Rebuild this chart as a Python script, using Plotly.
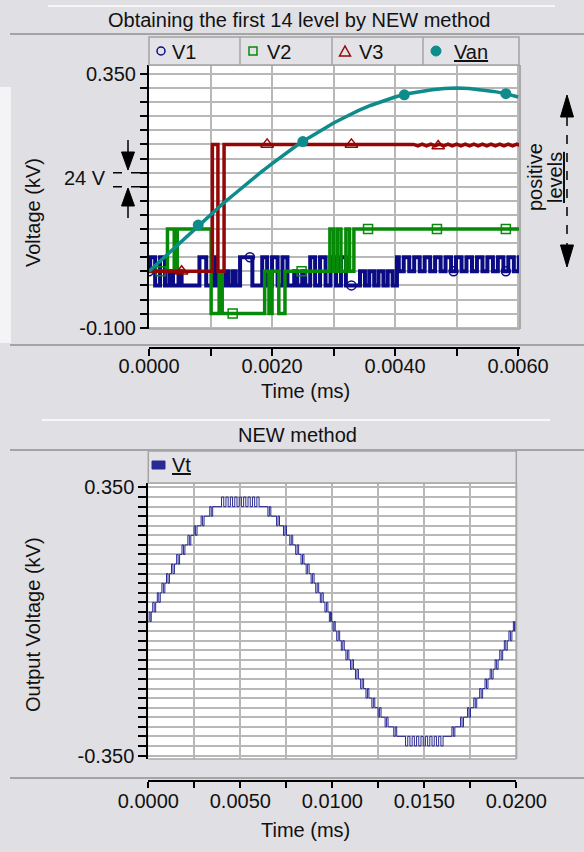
import plotly.graph_objects as go

W, H = 584, 852
def px(x): return x / W
def py(y): return 1 - y / H

FONT = "Liberation Sans, Arial, sans-serif"
BG = "#e0dfe3"
GRID = "#b8b8b8"
C_V1 = "#0b0b86"
C_V2 = "#078a07"
C_V3 = "#950606"
C_VAN = "#0e8b8b"
C_VT = "#2a2a95"

# ---------------- data (top chart, time in ms, voltage in kV) ----------------
van_t = [0.0000, 0.0002, 0.0004, 0.0006, 0.0008, 0.0010, 0.0012, 0.0014, 0.0016, 0.0018,
         0.0020, 0.0022, 0.0024, 0.0026, 0.0028, 0.0030, 0.0032, 0.0034, 0.0036, 0.0038,
         0.0040, 0.0042, 0.0044, 0.0046, 0.0048, 0.0050, 0.0052, 0.0054, 0.0056, 0.0058, 0.0060]
van_v = [0.000, 0.020, 0.041, 0.061, 0.081, 0.100, 0.120, 0.138, 0.157, 0.174,
         0.191, 0.207, 0.223, 0.237, 0.250, 0.263, 0.274, 0.285, 0.294, 0.302,
         0.309, 0.315, 0.319, 0.322, 0.324, 0.325, 0.324, 0.322, 0.319, 0.315, 0.309]
van_mark_t = [0.0008, 0.0025, 0.00415, 0.0058]
van_mark_v = [0.082, 0.230, 0.313, 0.315]

v3_t = [0.0, 0.00103, 0.00103, 0.00112, 0.00112, 0.00122, 0.00122, 0.00430,
        0.00437, 0.00444, 0.00451, 0.00458, 0.00465, 0.00472, 0.00479, 0.00486, 0.00493,
        0.00500, 0.00507, 0.00514, 0.00521, 0.00528, 0.00535, 0.00542, 0.00549, 0.00556,
        0.00563, 0.00570, 0.00577, 0.00584, 0.00591, 0.00598, 0.00603]
v3_v = [0.0, 0.0, 0.225, 0.225, 0.0, 0.0, 0.225, 0.225,
        0.2225, 0.2255, 0.2225, 0.2255, 0.2225, 0.2255, 0.2225, 0.2255, 0.2225,
        0.2255, 0.2225, 0.2255, 0.2225, 0.2255, 0.2225, 0.2255, 0.2225, 0.2255,
        0.2225, 0.2255, 0.2225, 0.2255, 0.2225, 0.2255, 0.2235]
v3_mark_t = [0.00053, 0.00192, 0.00329, 0.00470]
v3_mark_v = [0.0, 0.225, 0.225, 0.222]

v2_t = [0.0, 0.00030, 0.00041, 0.00046, 0.00101, 0.00114, 0.00119, 0.00188, 0.00195,
        0.00200, 0.00211, 0.00221, 0.00294, 0.00300, 0.00306, 0.00312, 0.00320, 0.00326,
        0.00333, 0.00603]
v2_v = [0.0, 0.075, 0.0, 0.075, -0.075, 0.0, -0.075, 0.0, -0.075,
        0.0, -0.075, 0.0, 0.075, 0.0, 0.075, 0.0, 0.075, 0.0,
        0.075, 0.075]
v2_mark_t = [0.00019, 0.00136, 0.00248, 0.00356, 0.00468, 0.00580]
v2_mark_v = [0.0, -0.075, 0.0, 0.075, 0.075, 0.075]

v1_t = [0.0, 0.00002, 0.00010, 0.00018, 0.00026, 0.00033, 0.00039, 0.00048, 0.00053,
        0.00082, 0.00093, 0.00104, 0.00110, 0.00124, 0.00129, 0.00136, 0.00141, 0.00148,
        0.00168, 0.00184, 0.00192, 0.00200, 0.00209, 0.00217, 0.00225,
        0.00236, 0.00241, 0.00249, 0.00254, 0.00262, 0.00270, 0.00278, 0.00287,
        0.00295, 0.00304, 0.00312, 0.00320, 0.00343, 0.00351, 0.00358, 0.00366,
        0.00373, 0.00381, 0.00388, 0.00396, 0.00403, 0.00406, 0.00414,
        0.00423, 0.00431, 0.00440, 0.00448, 0.00457, 0.00465, 0.00474, 0.00482, 0.00491,
        0.00499, 0.00508, 0.00516, 0.00525, 0.00533, 0.00542, 0.00550, 0.00559, 0.00567,
        0.00576, 0.00584, 0.00593, 0.00601, 0.00603]
v1_v = [0.0, 0.025, -0.025, 0.025, -0.025, 0.0, -0.025, 0.0, -0.025,
        0.025, -0.025, 0.025, -0.025, 0.0, -0.025, 0.0, -0.025, 0.025,
        -0.025, 0.025, -0.025, 0.025, -0.025, 0.025, -0.025,
        0.0, -0.025, 0.0, -0.025, 0.025, -0.025, 0.025, -0.025,
        0.025, -0.025, 0.025, -0.025, 0.0, -0.025, 0.0, -0.025,
        0.0, -0.025, 0.0, -0.025, 0.025, 0.0, 0.025,
        0.0, 0.025, 0.0, 0.025, 0.0, 0.025, 0.0, 0.025, 0.0,
        0.025, 0.0, 0.025, 0.0, 0.025, 0.0, 0.025, 0.0, 0.025,
        0.0, 0.025, 0.0, 0.025, 0.025]
v1_mark_t = [0.0, 0.00164, 0.00329, 0.00495, 0.00580]
v1_mark_v = [0.0, 0.025, -0.025, 0.0, 0.0]

# ---------------- data (bottom chart) ----------------
vt_t = [0.0, 0.00004, 0.00010, 0.00016,
        0.00024, 0.00032, 0.00040, 0.00049, 0.00057, 0.00065, 0.00074, 0.00082, 0.00090,
        0.00099, 0.00107, 0.00115, 0.00126, 0.00134, 0.00142, 0.00154, 0.00162, 0.00170,
        0.00183, 0.00191, 0.00199, 0.00215, 0.00223, 0.00231, 0.00249, 0.00257, 0.00265,
        0.00287, 0.00295, 0.00303, 0.00334, 0.00342, 0.00350,
        0.00398, 0.00410, 0.00422, 0.00434, 0.00446, 0.00458, 0.00470, 0.00482, 0.00494,
        0.00506, 0.00518, 0.00530, 0.00542, 0.00554, 0.00566, 0.00578, 0.00590, 0.00602,
        0.00650, 0.00658, 0.00666, 0.00697, 0.00705, 0.00713, 0.00735, 0.00743, 0.00751,
        0.00769, 0.00777, 0.00785, 0.00801, 0.00809, 0.00817, 0.00830, 0.00838, 0.00846,
        0.00858, 0.00866, 0.00874, 0.00885, 0.00893, 0.00901, 0.00910, 0.00918, 0.00926,
        0.00935, 0.00943, 0.00951, 0.00960, 0.00968, 0.00976, 0.00984, 0.00990, 0.00996,
        0.01004, 0.01010, 0.01016, 0.01024, 0.01032, 0.01040, 0.01049, 0.01057, 0.01065,
        0.01074, 0.01082, 0.01090, 0.01099, 0.01107, 0.01115, 0.01126, 0.01134, 0.01142,
        0.01154, 0.01162, 0.01170, 0.01183, 0.01191, 0.01199, 0.01215, 0.01223, 0.01231,
        0.01249, 0.01257, 0.01265, 0.01287, 0.01295, 0.01303, 0.01334, 0.01342, 0.01350,
        0.01398, 0.01410, 0.01422, 0.01434, 0.01446, 0.01458, 0.01470, 0.01482, 0.01494,
        0.01506, 0.01518, 0.01530, 0.01542, 0.01554, 0.01566, 0.01578, 0.01590, 0.01602,
        0.01650, 0.01658, 0.01666, 0.01697, 0.01705, 0.01713, 0.01735, 0.01743, 0.01751,
        0.01769, 0.01777, 0.01785, 0.01801, 0.01809, 0.01817, 0.01830, 0.01838, 0.01846,
        0.01858, 0.01866, 0.01874, 0.01885, 0.01893, 0.01901, 0.01910, 0.01918, 0.01926,
        0.01935, 0.01943, 0.01951, 0.01960, 0.01968, 0.01976, 0.01984, 0.01990, 0.01996,
        0.02000]
vt_v = [0.000, 0.025, 0.000, 0.025,
        0.050, 0.025, 0.050, 0.075, 0.050, 0.075, 0.100, 0.075, 0.100,
        0.125, 0.100, 0.125, 0.150, 0.125, 0.150, 0.175, 0.150, 0.175,
        0.200, 0.175, 0.200, 0.225, 0.200, 0.225, 0.250, 0.225, 0.250,
        0.275, 0.250, 0.275, 0.300, 0.275, 0.300,
        0.325, 0.300, 0.325, 0.300, 0.325, 0.300, 0.325, 0.300, 0.325,
        0.300, 0.325, 0.300, 0.325, 0.300, 0.325, 0.300, 0.325, 0.300,
        0.275, 0.300, 0.275, 0.250, 0.275, 0.250, 0.225, 0.250, 0.225,
        0.200, 0.225, 0.200, 0.175, 0.200, 0.175, 0.150, 0.175, 0.150,
        0.125, 0.150, 0.125, 0.100, 0.125, 0.100, 0.075, 0.100, 0.075,
        0.050, 0.075, 0.050, 0.025, 0.050, 0.025, 0.000, 0.025, 0.000,
        -0.025, 0.000, -0.025, -0.050, -0.025, -0.050, -0.075, -0.050, -0.075,
        -0.100, -0.075, -0.100, -0.125, -0.100, -0.125, -0.150, -0.125, -0.150,
        -0.175, -0.150, -0.175, -0.200, -0.175, -0.200, -0.225, -0.200, -0.225,
        -0.250, -0.225, -0.250, -0.275, -0.250, -0.275, -0.300, -0.275, -0.300,
        -0.325, -0.300, -0.325, -0.300, -0.325, -0.300, -0.325, -0.300, -0.325,
        -0.300, -0.325, -0.300, -0.325, -0.300, -0.325, -0.300, -0.325, -0.300,
        -0.275, -0.300, -0.275, -0.250, -0.275, -0.250, -0.225, -0.250, -0.225,
        -0.200, -0.225, -0.200, -0.175, -0.200, -0.175, -0.150, -0.175, -0.150,
        -0.125, -0.150, -0.125, -0.100, -0.125, -0.100, -0.075, -0.100, -0.075,
        -0.050, -0.075, -0.050, -0.025, -0.050, -0.025, 0.000, -0.025, 0.000,
        0.000]

# ---------------- ticks ----------------
top_xticks = [0.000, 0.001, 0.002, 0.003, 0.004, 0.005, 0.006]
top_xtext = ["0.0000", "", "0.0020", "", "0.0040", "", "0.0060"]
top_yticks = [round(-0.100 + 0.025 * i, 3) for i in range(19)]
top_ytext = ["-0.100"] + [""] * 17 + ["0.350"]
bot_xticks = [0.0, 0.0025, 0.005, 0.0075, 0.010, 0.0125, 0.015, 0.0175, 0.020]
bot_xtext = ["0.0000", "", "0.0050", "", "0.0100", "", "0.0150", "", "0.0200"]
bot_yticks = [round(-0.350 + 0.025 * i, 3) for i in range(29)]
bot_ytext = ["-0.350"] + [""] * 27 + ["0.350"]

fig = go.Figure()

# top chart traces
fig.add_trace(go.Scatter(x=v1_t, y=v1_v, mode="lines", line=dict(color=C_V1, width=4, shape="hv"),
                         showlegend=False, xaxis="x", yaxis="y"))
fig.add_trace(go.Scatter(x=v1_mark_t, y=v1_mark_v, mode="markers", name="V1",
                         marker=dict(symbol="circle-open", size=9, color=C_V1, line=dict(width=1.5)),
                         showlegend=False, xaxis="x", yaxis="y"))
fig.add_trace(go.Scatter(x=v2_t, y=v2_v, mode="lines", line=dict(color=C_V2, width=3.5, shape="hv"),
                         showlegend=False, xaxis="x", yaxis="y"))
fig.add_trace(go.Scatter(x=v2_mark_t, y=v2_mark_v, mode="markers", name="V2",
                         marker=dict(symbol="square-open", size=9, color=C_V2, line=dict(width=1.5)),
                         showlegend=False, xaxis="x", yaxis="y"))
fig.add_trace(go.Scatter(x=v3_t, y=v3_v, mode="lines", line=dict(color=C_V3, width=3.5),
                         showlegend=False, xaxis="x", yaxis="y"))
fig.add_trace(go.Scatter(x=v3_mark_t, y=v3_mark_v, mode="markers", name="V3",
                         marker=dict(symbol="triangle-up-open", size=11, color=C_V3, line=dict(width=1.5)),
                         showlegend=False, xaxis="x", yaxis="y"))
fig.add_trace(go.Scatter(x=van_t, y=van_v, mode="lines", line=dict(color=C_VAN, width=3.5),
                         showlegend=False, xaxis="x", yaxis="y"))
fig.add_trace(go.Scatter(x=van_mark_t, y=van_mark_v, mode="markers", name="Van",
                         marker=dict(symbol="circle", size=11, color=C_VAN),
                         showlegend=False, xaxis="x", yaxis="y"))

# bottom chart trace
fig.add_trace(go.Scatter(x=vt_t, y=vt_v, mode="lines", name="Vt", line=dict(color=C_VT, width=1, shape="hv"),
                         showlegend=False, xaxis="x2", yaxis="y2"))

tickfont = dict(family=FONT, size=20, color="#111111")
axis_common = dict(showgrid=True, gridcolor=GRID, gridwidth=1.5, zeroline=False,
                   ticks="outside", tickcolor="black", tickwidth=1.5, tickfont=tickfont,
                   showline=True, linecolor="black", linewidth=2, automargin=False, tickmode="array")

fig.update_layout(
    width=W, height=H, margin=dict(l=0, r=0, t=0, b=0), autosize=False,
    paper_bgcolor=BG, plot_bgcolor="white", showlegend=False,
    xaxis=dict(axis_common, domain=[px(149), px(520)], range=[0, 0.00603],
               anchor="free", position=py(348), tickvals=top_xticks, ticktext=top_xtext, ticklen=7,
               ticklabelstandoff=-7),
    yaxis=dict(axis_common, domain=[py(329), py(65)], range=[-0.1023, 0.3658], anchor="x",
               tickvals=top_yticks, ticktext=top_ytext, ticklen=7),
    xaxis2=dict(axis_common, domain=[px(148.3), px(516.3)], range=[0, 0.02],
                anchor="free", position=py(781), tickvals=bot_xticks, ticktext=bot_xtext, ticklen=6,
                ticklabelstandoff=-4),
    yaxis2=dict(axis_common, domain=[py(759), py(482.7)], range=[-0.3591, 0.3625], anchor="x2",
                tickvals=bot_yticks, ticktext=bot_ytext, ticklen=8),
)

shapes = []
def line(x0, y0, x1, y1, color, width, dash="solid"):
    shapes.append(dict(type="line", xref="paper", yref="paper", x0=px(x0), y0=py(y0), x1=px(x1), y1=py(y1),
                       line=dict(color=color, width=width, dash=dash)))
def rect(x0, y0, x1, y1, fill, color, width):
    shapes.append(dict(type="rect", xref="paper", yref="paper", x0=px(x0), y0=py(y0), x1=px(x1), y1=py(y1),
                       fillcolor=fill, line=dict(color=color, width=width)))
def path(pts, fill, color, width):
    d = "M " + " L ".join(f"{px(a):.5f},{py(b):.5f}" for a, b in pts) + " Z"
    shapes.append(dict(type="path", xref="paper", yref="paper", path=d, fillcolor=fill,
                       line=dict(color=color, width=width)))
def circle(cx, cy, r, fill, color, width):
    shapes.append(dict(type="circle", xref="paper", yref="paper", x0=px(cx - r), y0=py(cy + r),
                       x1=px(cx + r), y1=py(cy - r), fillcolor=fill, line=dict(color=color, width=width)))

# panel decorations
rect(0, 87, 11, 343, "#f4f4f6", "#f4f4f6", 0)
line(48, 6, 555, 6, "white", 1.5)
line(10, 34, 584, 34, "#a4a4a4", 2)
line(10, 345, 584, 345, "#a4a4a4", 2)
line(42, 420, 550, 420, "white", 1.5)
line(10, 450, 584, 450, "#a4a4a4", 2)
line(10, 778, 584, 778, "#a4a4a4", 2)

# plot borders (top, right, bottom)
for (l, t, r, b) in [(149, 65, 520, 329), (148.3, 482.7, 516.3, 759)]:
    line(l, t, r, t, "#a8a8a8", 1.5)
    line(r, t, r, b, "#a8a8a8", 2)
    line(l, b, r, b, "#a8a8a8", 1.5)

# top legend box
rect(149, 37, 519, 65, "#e3e2e6", "#a4a4a4", 1.5)
for xd in [240, 332, 423]:
    line(xd, 37, xd, 65, "#a4a4a4", 1.5)
circle(161, 51, 4, "rgba(0,0,0,0)", C_V1, 1.5)
rect(249, 47, 257, 55, "rgba(0,0,0,0)", C_V2, 1.5)
path([(339.5, 56), (345, 46), (350.5, 56)], "rgba(0,0,0,0)", C_V3, 1.5)
circle(436, 51, 5, C_VAN, C_VAN, 1)

# bottom legend box
rect(148.3, 451, 516.3, 483, "#e3e2e6", "#a4a4a4", 1.5)
rect(152, 461, 165, 469, C_VT, C_VT, 1)

# 24 V annotation marks
line(113, 172.7, 143, 172.7, "black", 1.5, "dash")
line(113, 186.7, 143, 186.7, "black", 1.5, "dash")
line(128, 140, 128, 155, "black", 1.5)
path([(121.5, 152), (134.5, 152), (128, 170)], "black", "black", 1)
line(128, 204, 128, 218, "black", 1.5)
path([(121.5, 206), (134.5, 206), (128, 188)], "black", "black", 1)

# positive levels arrow
line(567, 117, 567, 245, "black", 1.5, "dash")
path([(560.5, 117), (573.5, 117), (567, 95)], "black", "black", 1)
path([(560.5, 245), (573.5, 245), (567, 267)], "black", "black", 1)

fig.update_layout(shapes=shapes)

ann = []
def text(x, y, s, size=20, xanchor="center", angle=0):
    ann.append(dict(x=px(x), y=py(y), xref="paper", yref="paper", text=s, showarrow=False,
                    xanchor=xanchor, yanchor="middle", textangle=angle,
                    font=dict(family=FONT, size=size, color="#111111")))

text(299, 20, "Obtaining the first 14 level by NEW method")
text(170, 52, "V1", xanchor="left")
text(265, 52, "V2", xanchor="left")
text(357, 52, "V3", xanchor="left")
text(452, 52, "<u>Van</u>", xanchor="left")
text(33, 213, "Voltage (kV)", angle=-90)
text(305, 391, "Time (ms)")
text(85, 178, "24 V")
text(535, 177, "positive", angle=-90)
text(555, 178, "<u>levels</u>", angle=-90)

text(297, 435, "NEW method")
text(170, 465, "<u>Vt</u>", xanchor="left")
text(33, 625, "Output Voltage (kV)", angle=-90)
text(305, 830, "Time (ms)")

fig.update_layout(annotations=ann)

fig.write_html("out.html", config={"displayModeBar": False},
               post_script="document.body.style.margin='0';document.body.style.background='" + BG + "';")
